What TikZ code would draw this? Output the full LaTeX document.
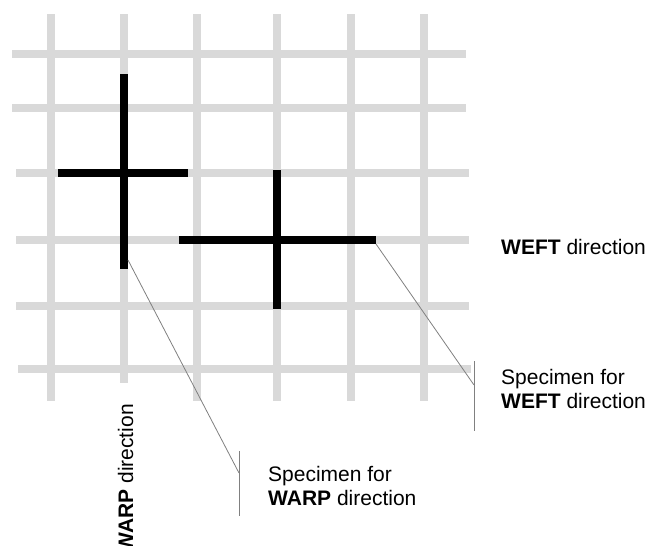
\documentclass[tikz,border=0pt]{standalone}
\usepackage{fontspec}
\setmainfont{Liberation Sans}
\usepackage{xcolor}
\usetikzlibrary{positioning}
\definecolor{yarngray}{HTML}{D9D9D9}
\definecolor{leadergray}{HTML}{808080}

\begin{document}
\begin{tikzpicture}[x=1pt,y=-1pt,
  yarn/.style={draw=yarngray, line width=8pt},
  specimen/.style={draw=black, line width=8pt},
  leader/.style={draw=leadergray, line width=0.8pt},
  label/.style={inner sep=0pt, align=left, font=\fontsize{21}{24}\selectfont}]
\useasboundingbox (0,0) rectangle (648,546);

% Hilos de la tela
\foreach \y/\a/\b in {54/12/466, 108/12/466, 173/16/469, 240/16/469, 306/16/469, 369/18/471}
  \draw[yarn] (\a,\y) -- (\b,\y);
\foreach \x in {51,197,277,351,424}
  \draw[yarn] (\x,14) -- (\x,401);
\draw[yarn] (124,14) -- (124,383);

% Probetas
\draw[specimen] (124,74) -- (124,269);
\draw[specimen] (58,173) -- (188,173);
\draw[specimen] (277,170) -- (277,309);
\draw[specimen] (179,240) -- (376,240);

% Puntos de referencia
\coordinate (warp tip) at (128,260);
\coordinate (weft tip) at (376,244);
\coordinate (warp mark) at (239,473);
\coordinate (weft mark) at (474,385);

% Lineas de referencia
\draw[leader] (warp tip) -- (warp mark);
\draw[leader] (warp mark) ++(0,-22) -- ++(0,65);
\draw[leader] (weft tip) -- (weft mark);
\draw[leader] (weft mark) ++(0,-24) -- ++(0,70);

% Textos
\node[label, anchor=base west] (warp label) at (268,505) {Specimen for\\\textbf{WARP} direction};
\node[label, anchor=base west] (weft label) at (501,408) {Specimen for\\\textbf{WEFT} direction};
\node[label, anchor=base west] (weft dir) at (501,254) {\textbf{WEFT} direction};
\node[label, rotate=90, anchor=base east] (warp dir) at (133,404) {\textbf{WARP} direction};
\end{tikzpicture}
\end{document}
